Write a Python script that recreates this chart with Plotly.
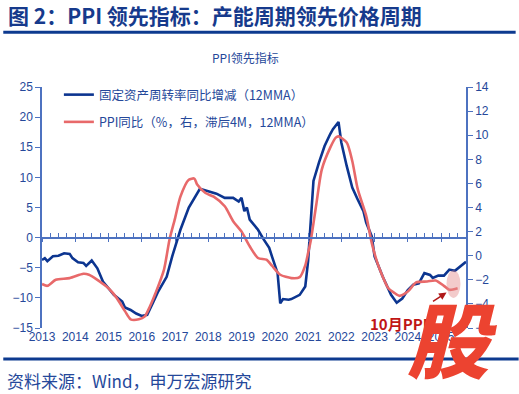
import plotly.graph_objects as go
import pandas as pd

# ---------------- data ----------------
blue_name = "固定资产周转率同比增减（12MMA）"
blue_dates = ["2013-01", "2013-02", "2013-03", "2013-05", "2013-07", "2013-09", "2013-11", "2013-12",
              "2014-02", "2014-04", "2014-05", "2014-07", "2014-09", "2014-11", "2015-01", "2015-03",
              "2015-06", "2015-07", "2015-09", "2015-11", "2016-01", "2016-03", "2016-05", "2016-07",
              "2016-10", "2016-12", "2017-03", "2017-06", "2017-10", "2018-01", "2018-04", "2018-07",
              "2018-10", "2018-12", "2019-01", "2019-02", "2019-03", "2019-04", "2019-07", "2019-09",
              "2019-11", "2019-12", "2020-02", "2020-03", "2020-04", "2020-06", "2020-07", "2020-10",
              "2020-12", "2021-01", "2021-02", "2021-03", "2021-05", "2021-07", "2021-09", "2021-10",
              "2021-12", "2022-01", "2022-03", "2022-05", "2022-07", "2022-09", "2022-10", "2022-12",
              "2023-01", "2023-04", "2023-07", "2023-09", "2023-11", "2024-01", "2024-03", "2024-05",
              "2024-07", "2024-09", "2024-10", "2024-12", "2025-02", "2025-04", "2025-06", "2025-08",
              "2025-10"]
blue_values = [-3.7, -3.4, -3.9, -3.1, -3.0, -2.6, -2.7, -3.4,
               -4.1, -4.2, -4.7, -3.8, -5.1, -7.3, -8.4, -9.5,
               -10.6, -11.6, -12.0, -12.6, -13.0, -12.8, -10.9, -8.9,
               -6.5, -3.1, 1.3, 5.0, 8.1, 7.7, 7.3, 6.6,
               6.6, 6.0, 6.6, 4.4, 5.0, 3.0, 1.3, -0.3,
               -1.7, -3.1, -5.9, -10.9, -10.2, -10.3, -10.2, -9.5,
               -8.1, -3.9, 3.5, 9.4, 12.5, 15.2, 17.2, 18.0,
               19.2, 15.8, 11.9, 8.3, 6.3, 4.4, 2.5, 0.2,
               -3.1, -6.5, -9.5, -10.8, -10.1, -8.7, -7.8, -7.6,
               -5.9, -6.2, -6.7, -6.3, -6.3, -5.3, -5.5, -4.8,
               -4.0]

red_name = "PPI同比（%，右，滞后4M，12MMA）"
red_dates = ["2013-01", "2013-03", "2013-06", "2013-11", "2014-04", "2014-06", "2014-09", "2015-01",
             "2015-04", "2015-07", "2015-09", "2015-12", "2016-02", "2016-04", "2016-06", "2016-09",
             "2016-11", "2017-01", "2017-03", "2017-06", "2017-08", "2017-09", "2017-12", "2018-03",
             "2018-07", "2018-10", "2019-01", "2019-04", "2019-07", "2019-10", "2019-12", "2020-03",
             "2020-07", "2020-10", "2020-12", "2021-01", "2021-02", "2021-04", "2021-06", "2021-09",
             "2021-11", "2021-12", "2022-03", "2022-05", "2022-07", "2022-10", "2022-12", "2023-02",
             "2023-03", "2023-06", "2023-08", "2023-10", "2024-01", "2024-04", "2024-08", "2024-11",
             "2025-02", "2025-04", "2025-07"]
red_values = [-2.35, -2.5, -2.0, -1.86, -1.5, -1.58, -2.0, -2.7,
              -3.5, -4.6, -5.28, -5.28, -5.06, -4.2, -3.1, -1.17,
              1.33, 3.1, 4.9, 6.3, 6.4, 5.9, 5.2, 4.9,
              4.1, 2.86, 2.0, 0.78, -0.19, -0.33, -0.83, -1.58,
              -1.86, -1.78, -0.8, 0.22, 1.33, 4.25, 7.17, 8.97,
              9.8, 9.9, 9.4, 7.86, 5.5, 3.3, 1.06, -0.6,
              -1.17, -2.7, -3.06, -3.33, -2.97, -2.22, -2.14, -2.06,
              -2.5, -2.83, -2.7]

year_ticks = [str(y) for y in range(2013, 2026)]
left_ticks = [25, 20, 15, 10, 5, 0, -5, -10, -15]
right_ticks = [14, 12, 10, 8, 6, 4, 2, 0, -2, -4, -6]

title_text = "图 2：PPI 领先指标：产能周期领先价格周期"
chart_title = "PPI领先指标"
source_text = "资料来源：Wind，申万宏源研究"
callout_text = "10月PPI"
watermark_text = "股"

# ---------------- styling ----------------
NAVY = "#0c3590"
RED = "#e8696a"
AXIS = "#4d72c0"
TXT = "#25489a"
FONT = "Noto Sans CJK SC"

W, H = 519, 394
ML, MR, MT, MB = 39, 53, 87, 66
PW, PH = W - ML - MR, H - MT - MB


def px(x):
    return (x - ML) / PW


def py(y):
    return (H - MB - y) / PH


fig = go.Figure()

fig.add_trace(go.Scatter(x=red_dates, y=red_values, name=red_name, yaxis="y2", mode="lines",
                         line=dict(color=RED, width=2.6, shape="spline", smoothing=0.7),
                         legendrank=2, legendgroup="r"))
fig.add_trace(go.Scatter(x=blue_dates, y=blue_values, name=blue_name, mode="lines",
                         line=dict(color=NAVY, width=2.6),
                         legendrank=1, legendgroup="b"))
# dummy traces so the zero-level tick axes are drawn
fig.add_trace(go.Scatter(x=[], y=[], xaxis="x2", yaxis="y", showlegend=False, hoverinfo="skip"))
fig.add_trace(go.Scatter(x=[], y=[], xaxis="x3", yaxis="y", showlegend=False, hoverinfo="skip"))

xrange = ["2013-01-01", "2025-10-01"]
zero_pos = (0 - (-15)) / (25 - (-15))

fig.update_layout(
    width=W, height=H,
    margin=dict(l=ML, r=MR, t=MT, b=MB),
    paper_bgcolor="white", plot_bgcolor="white",
    font=dict(family=FONT, color=TXT, size=12),
    showlegend=True,
    legend=dict(x=px(56), y=py(80), xanchor="left", yanchor="top",
                bgcolor="rgba(0,0,0,0)", font=dict(size=12.5, color=TXT),
                tracegroupgap=8, itemwidth=30),
    xaxis=dict(type="date", range=xrange, showline=False, ticks="", showgrid=False, zeroline=False,
               tickvals=[f"{y}-01-01" for y in year_ticks], ticktext=year_ticks,
               tickfont=dict(size=12, color=TXT, family="Liberation Sans")),
    xaxis2=dict(type="date", matches="x", overlaying="x", anchor="free", position=zero_pos,
                showline=True, linecolor=AXIS, linewidth=1.5, ticks="inside", ticklen=4,
                tickcolor=AXIS, tickwidth=1, dtick="M3", tick0="2013-01-01",
                showticklabels=False, showgrid=False, zeroline=False),
    xaxis3=dict(type="date", matches="x", overlaying="x", anchor="free", position=zero_pos,
                showline=False, ticks="outside", ticklen=3, tickcolor=AXIS, tickwidth=1,
                dtick="M12", tick0="2013-01-01",
                showticklabels=False, showgrid=False, zeroline=False),
    yaxis=dict(range=[-15, 25], tickvals=left_ticks, showline=True, linecolor=AXIS, linewidth=1.5,
               ticks="outside", ticklen=5, tickcolor=AXIS, showgrid=False, zeroline=False,
               tickfont=dict(size=12, color=TXT, family="Liberation Sans")),
    yaxis2=dict(range=[-6, 14], tickvals=right_ticks, overlaying="y", side="right", anchor="x",
                showline=True, linecolor=AXIS, linewidth=1.5, ticks="outside", ticklen=5,
                tickcolor=AXIS, showgrid=False, zeroline=False,
                tickfont=dict(size=12, color=TXT, family="Liberation Sans")),
)

# title rule and bottom rule
fig.add_shape(type="line", xref="paper", yref="paper", x0=px(0), x1=px(516), y0=py(32.3), y1=py(32.3),
              line=dict(color="#0d3a8f", width=3))
fig.add_shape(type="line", xref="paper", yref="paper", x0=px(0), x1=px(519), y0=py(359), y1=py(359),
              line=dict(color="#0d3a8f", width=3))

# highlight ellipse around the last PPI readings
last_y = red_values[-1]
lx = pd.Timestamp(red_dates[-1])
fig.add_shape(type="circle", xref="x", yref="y2",
              x0=lx - pd.DateOffset(months=4), x1=lx + pd.DateOffset(months=1),
              y0=last_y - 0.8, y1=last_y + 1.5,
              fillcolor="rgba(228,140,140,0.45)", line=dict(width=0), layer="above")

anns = [
    dict(text=title_text, x=px(3), y=py(15), xref="paper", yref="paper", xanchor="left", yanchor="middle",
         showarrow=False, font=dict(size=21, color="#163a8c", family=FONT, weight="bold")),
    dict(text=chart_title, x=px(244), y=py(57), xref="paper", yref="paper", xanchor="center", yanchor="middle",
         showarrow=False, font=dict(size=12, color=TXT, family=FONT)),
    dict(text=source_text, x=px(2), y=py(380), xref="paper", yref="paper", xanchor="left", yanchor="middle",
         showarrow=False, font=dict(size=17, color=TXT, family=FONT)),
    dict(text="", x=(lx - pd.DateOffset(months=4)).strftime("%Y-%m-%d"), y=last_y - 0.35,
         xref="x", yref="y2", showarrow=True, ax=-15, ay=10, arrowhead=2, arrowsize=1,
         arrowwidth=1.5, arrowcolor="#b01818"),
    dict(text=callout_text, x=px(367), y=py(323), xref="paper", yref="paper", xanchor="left",
         yanchor="middle", showarrow=False,
         font=dict(size=15, color="#c01515", family=FONT, weight="bold")),
    dict(text=watermark_text, x=px(452), y=py(336), xref="paper", yref="paper", xanchor="center",
         yanchor="middle", showarrow=False,
         font=dict(size=82, color="#ec4330", family=FONT, weight=900, style="italic")),
]
fig.update_layout(annotations=anns)

fig.write_html("out.html", config={"displayModeBar": False},
               post_script="document.body.style.margin='0';document.body.style.overflow='hidden';")
